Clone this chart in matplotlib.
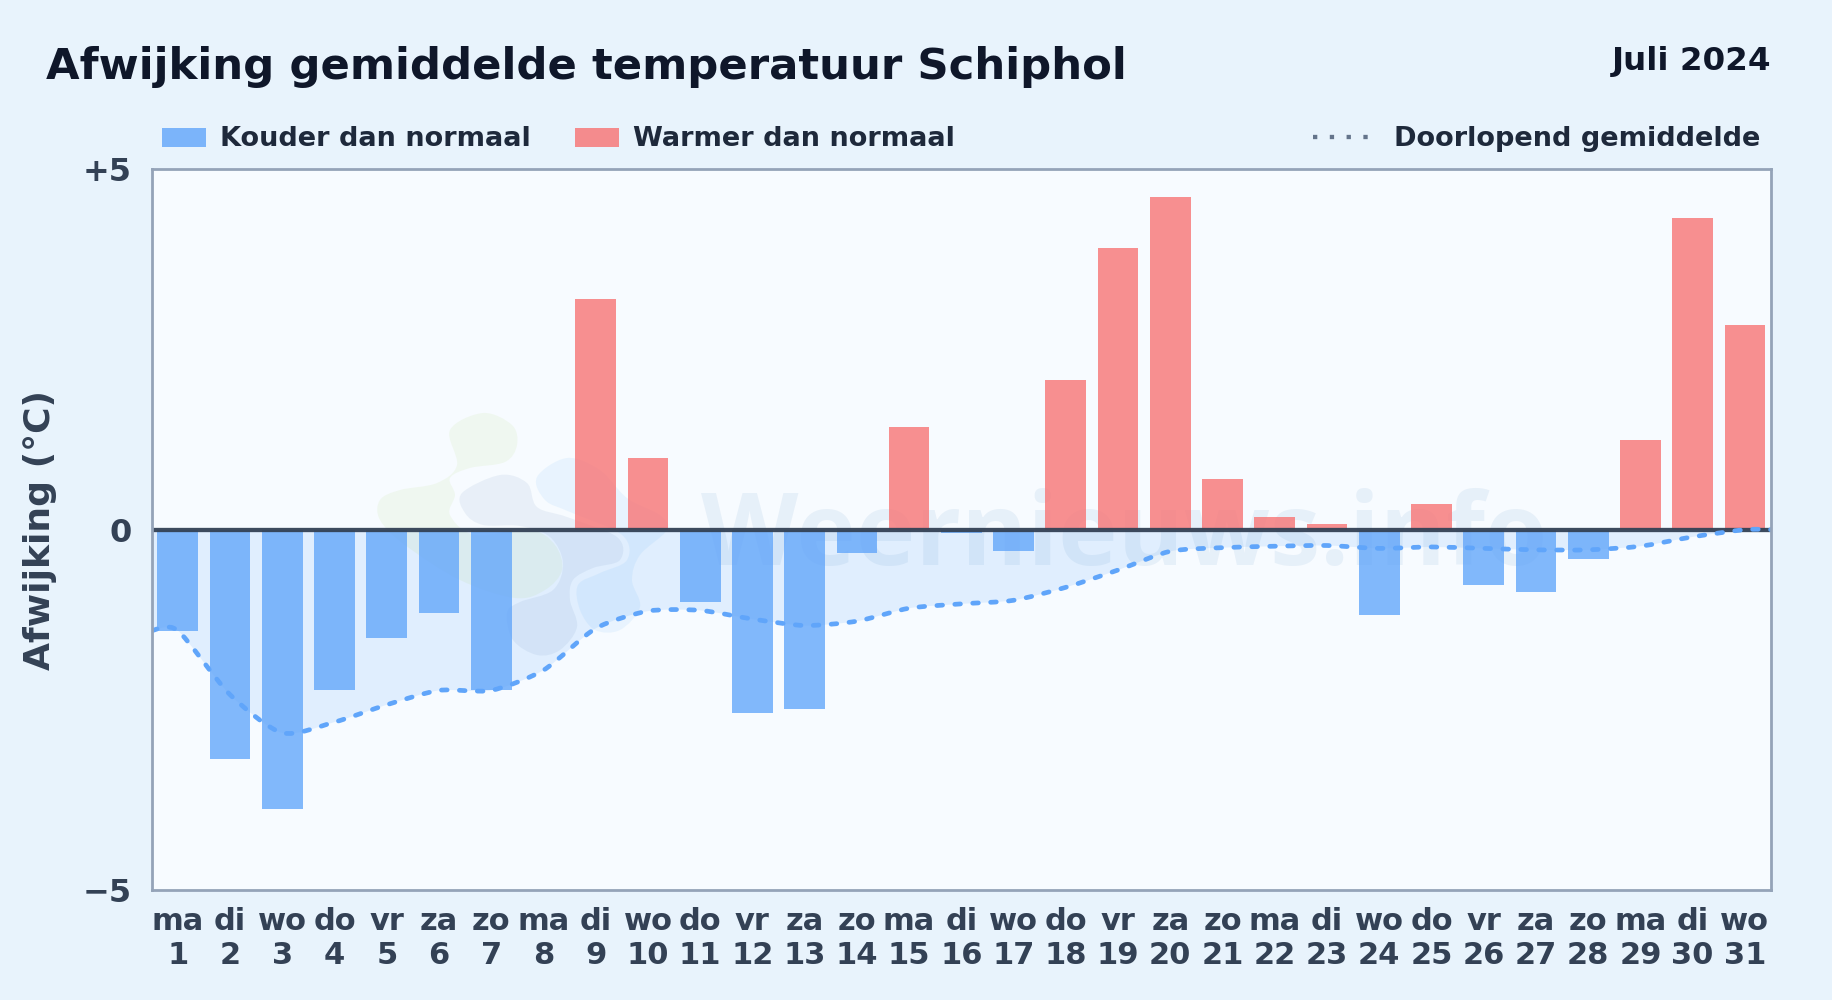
import numpy as np
import matplotlib
matplotlib.use("Agg")
import matplotlib.pyplot as plt
from matplotlib.path import Path
from matplotlib.patches import Patch, PathPatch
from matplotlib.lines import Line2D

W, H = 1832, 1000

# ─── Data ─────────────────────────────────────────────────────────────────────
weekdays = ["ma", "di", "wo", "do", "vr", "za", "zo"] * 4 + ["ma", "di", "wo"]
days = list(range(1, 32))
anomaly = [-1.40, -3.18, -3.87, -2.23, -1.50, -1.16, -2.23, 0.0, 3.20, 1.00,
           -1.01, -2.54, -2.49, -0.32, 1.43, -0.05, -0.30, 2.08, 3.91, 4.61,
           0.70, 0.18, 0.08, -1.18, 0.35, -0.77, -0.87, -0.41, 1.24, 4.32, 2.84]
running_mean = [-1.40, -2.29, -2.82, -2.67, -2.43, -2.23, -2.23, -1.95, -1.37, -1.13,
                -1.12, -1.24, -1.33, -1.27, -1.09, -1.03, -0.98, -0.80, -0.56, -0.30,
                -0.25, -0.23, -0.22, -0.26, -0.24, -0.26, -0.28, -0.28, -0.23, -0.10, 0.0]

BG = "#e8f3fc"
COLD = "#60a5fa"
WARM = "#f87171"
INK = "#334155"

# watermark logo outlines, in image pixels
logo_green = [(483, 413), (512, 425), (517, 445), (505, 462), (470, 468), (450, 478),
              (455, 495), (450, 515), (475, 535), (530, 530), (555, 545), (562, 570),
              (545, 590), (515, 598), (460, 580), (405, 545), (380, 520), (380, 500),
              (400, 490), (437, 483), (457, 465), (450, 430)]
logo_grey = [(462, 493), (500, 475), (527, 483), (537, 507), (567, 517), (617, 537),
             (620, 560), (593, 568), (573, 580), (570, 600), (577, 627), (560, 650),
             (537, 655), (513, 640), (507, 613), (520, 602), (553, 590), (563, 563),
             (550, 537), (520, 526), (483, 525), (465, 513)]
logo_blue = [(537, 477), (567, 458), (600, 470), (627, 498), (660, 515), (667, 530),
             (640, 555), (632, 580), (640, 607), (620, 630), (595, 630), (580, 610),
             (578, 585), (600, 573), (627, 560), (622, 535), (570, 512), (545, 500)]


def smooth_path(xs, ys, tension=0.75):
    # catmull-rom style bezier through the given points
    pts = np.column_stack([xs, ys])
    verts, codes = [pts[0]], [Path.MOVETO]
    for i in range(len(pts) - 1):
        prev = pts[max(i - 1, 0)]
        nxt = pts[min(i + 2, len(pts) - 1)]
        verts += [pts[i] + (pts[i + 1] - prev) / 6 * tension,
                  pts[i + 1] - (nxt - pts[i]) / 6 * tension,
                  pts[i + 1]]
        codes += [Path.CURVE4] * 3
    return np.array(verts), codes


def add_blob(ax, points, color, alpha):
    pts = np.array(points + points[:1], dtype=float)
    loop = np.vstack([pts[-2], pts, pts[1]])
    verts, codes = smooth_path(loop[:, 0] / W, 1 - loop[:, 1] / H, tension=1.0)
    ax.add_patch(PathPatch(Path(verts[3:-3], [Path.MOVETO] + codes[4:-3]),
                           transform=ax.figure.transFigure, facecolor=color,
                           edgecolor="none", alpha=alpha, zorder=2.5))


fig = plt.figure(figsize=(W / 100, H / 100), dpi=100, facecolor=BG)
ax = fig.add_axes([151.7 / W, 1 - 890 / H, (1771 - 151.7) / W, (890 - 169.3) / H],
                  facecolor="#f7fbff")

# ── bars ──────────────────────────────────────────────────────────────────────
colors = [COLD if v < 0 else WARM for v in anomaly]
ax.bar(days, anomaly, width=0.78, color=colors, alpha=0.78, linewidth=0, zorder=3)

# ── running mean: fill up to zero + dashed line ───────────────────────────────
line_x = [0.5] + days + [31.5]
line_y = running_mean[:1] + running_mean + running_mean[-1:]
verts, codes = smooth_path(line_x, line_y)
fill_verts = np.vstack([verts, [[31.5, 0], [0.5, 0], verts[0]]])
fill_codes = codes + [Path.LINETO, Path.LINETO, Path.CLOSEPOLY]
ax.add_patch(PathPatch(Path(fill_verts, fill_codes), facecolor=COLD, alpha=0.15,
                       edgecolor="none", zorder=2))
ax.add_patch(PathPatch(Path(verts, codes), fill=False, edgecolor=COLD, linewidth=3.4,
                       linestyle=(0, (1.2, 2.6)), capstyle="round", zorder=6))

ax.axhline(0, color=INK, linewidth=3.1, alpha=0.95, zorder=5)

# ── watermark (under the bars, they are see-through) ──────────────────────────
add_blob(ax, logo_green, "#a3d65c", 0.09)
add_blob(ax, logo_grey, "#2a5f9e", 0.07)
add_blob(ax, logo_blue, "#38a0f8", 0.08)
ax.text(701 / W, 1 - 565 / H, "Weernieuws.info", transform=fig.transFigure, fontsize=72.5,
        family="Open Sans", fontweight="bold", color="#2a6fb5", alpha=0.08,
        ha="left", va="baseline", zorder=2.5)

# ── axes ──────────────────────────────────────────────────────────────────────
ax.set_xlim(0.5, 31.5)
ax.set_ylim(-5, 5)
ax.set_yticks([-5, 0, 5], ["\u22125", "0", "+5"])
ax.set_xticks(days, [f"{d}\n{n}" for d, n in zip(weekdays, days)])
ax.tick_params(axis="y", length=0, pad=14.5, labelsize=23, labelcolor=INK)
ax.tick_params(axis="x", length=0, pad=12, labelsize=22, labelcolor=INK)
for lab in ax.get_xticklabels() + ax.get_yticklabels():
    lab.set_fontweight("bold")
for lab in ax.get_xticklabels():
    lab.set_linespacing(1.25)
for sp in ax.spines.values():
    sp.set_color("#94a3b8")
    sp.set_linewidth(2)
    sp.set_zorder(8)
ax.set_ylabel("Afwijking (°C)", fontsize=26, fontweight="bold", color=INK)
ax.yaxis.set_label_coords((57 - 151.7) / (1771 - 151.7), 0.5)

# ── titles ────────────────────────────────────────────────────────────────────
fig.text(46 / W, 1 - 78.5 / H, "Afwijking gemiddelde temperatuur Schiphol", fontsize=31.2,
         fontweight="bold", color="#0f172a", ha="left", va="baseline")
fig.text(1771 / W, 1 - 70 / H, "Juli 2024", fontsize=23.4, fontweight="bold",
         color="#0f172a", ha="right", va="baseline")

# ── legends ───────────────────────────────────────────────────────────────────
left_handles = [Patch(facecolor=COLD, alpha=0.8, linewidth=0, label="Kouder dan normaal"),
                Patch(facecolor=WARM, alpha=0.8, linewidth=0, label="Warmer dan normaal")]
leg_font = {"size": 19.5, "weight": "bold"}
leg1 = fig.legend(handles=left_handles, loc="lower left", ncol=2, frameon=False, prop=leg_font,
                  bbox_to_anchor=(162 / W, 1 - 152.5 / H), borderpad=0, borderaxespad=0,
                  handlelength=1.63, handleheight=0.7, handletextpad=0.5,
                  columnspacing=1.65, labelcolor="#1e293b")
right_handles = [Line2D([], [], color="#64748b", linewidth=3.1, linestyle=(0, (1, 2.9)),
                        label="Doorlopend gemiddelde")]
leg2 = fig.legend(handles=right_handles, loc="lower right", frameon=False, prop=leg_font,
                  bbox_to_anchor=(1760 / W, 1 - 152.5 / H), borderpad=0, borderaxespad=0,
                  handlelength=2.08, handletextpad=0.9, labelcolor="#1e293b")

fig.savefig("out.png", dpi=100, facecolor=BG)
plt.close(fig)
